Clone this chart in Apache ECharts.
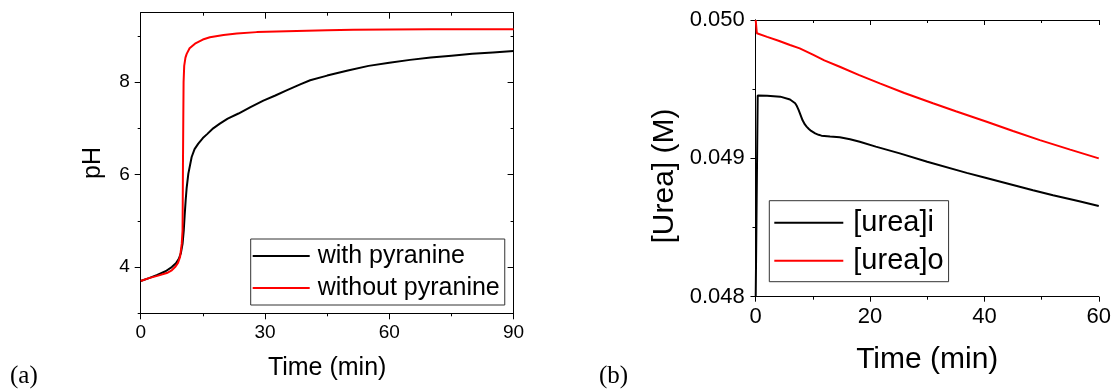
<!DOCTYPE html>
<html>
<head>
<meta charset="utf-8">
<script src="https://cdn.jsdelivr.net/npm/echarts@6/dist/echarts.min.js"></script>
<style>
html, body { margin: 0; padding: 0; background: #fff; }
#chart { width: 1114px; height: 392px; }
</style>
</head>
<body>
<div id="chart"></div>
<script>
// Panel (a): pH against time, with and without pyranine
const timeWithPyranine = [0, 2, 4, 6, 7.5, 8.5, 9.2, 9.7, 10.1, 10.4, 10.6, 10.85, 11.1, 11.5, 12.3, 13, 13.9, 15, 16.1, 17.5, 19.1, 21, 23.6, 26.5, 29.6, 32.5, 35.2, 38.5, 40.9, 45, 50, 55, 60, 65, 70, 75, 80, 85, 90];
const phWithPyranine = [3.70, 3.76, 3.83, 3.91, 4.00, 4.08, 4.18, 4.30, 4.50, 4.80, 5.10, 5.44, 5.72, 6.02, 6.38, 6.55, 6.67, 6.79, 6.88, 7.00, 7.10, 7.21, 7.32, 7.46, 7.60, 7.71, 7.82, 7.95, 8.04, 8.14, 8.25, 8.35, 8.42, 8.48, 8.53, 8.57, 8.61, 8.64, 8.67];
const timeWithoutPyranine = [0, 2, 4, 6.3, 7.5, 8.3, 9, 9.5, 9.9, 10.1, 10.15, 10.2, 10.28, 10.35, 10.5, 10.8, 11.1, 11.8, 13.1, 15, 16.7, 20, 23.2, 28, 35.2, 45, 51.3, 60, 70, 80, 90];
const phWithoutPyranine = [3.70, 3.76, 3.81, 3.87, 3.93, 4.00, 4.09, 4.22, 4.50, 4.79, 5.40, 6.20, 7.20, 8.00, 8.35, 8.53, 8.61, 8.73, 8.83, 8.92, 8.97, 9.02, 9.05, 9.08, 9.10, 9.12, 9.13, 9.135, 9.14, 9.14, 9.14];
const phLabelTicks = [4, 6, 8];
const phMinorTicks = [3, 5, 7, 9];

// Panel (b): inner and outer urea concentration against time
const timeUreaI = [0, 0.35, 2, 4.3, 6, 6.9, 7.2, 7.5, 7.85, 8.2, 8.6, 8.9, 9.3, 9.7, 10.4, 11, 11.5, 13, 14.7, 16.5, 18.2, 21, 25.2, 30, 36.9, 40, 45, 48.5, 52, 56.4, 60];
const ureaI = [0.04800, 0.049455, 0.049453, 0.049446, 0.049425, 0.049398, 0.049378, 0.049350, 0.049313, 0.049275, 0.049245, 0.049229, 0.049212, 0.049198, 0.049180, 0.049170, 0.049164, 0.049158, 0.049152, 0.049138, 0.049120, 0.049085, 0.049036, 0.048975, 0.048895, 0.048862, 0.048808, 0.048770, 0.048733, 0.048692, 0.048655];
const timeUreaO = [0, 0.2, 2, 4, 6, 7.7, 10, 12, 14.7, 18, 21.7, 26, 31, 35, 40.4, 45, 49.7, 55, 60];
const ureaO = [0.05000, 0.049904, 0.049878, 0.049850, 0.049819, 0.049795, 0.049750, 0.049708, 0.049662, 0.049603, 0.049542, 0.049472, 0.049398, 0.049340, 0.049265, 0.049198, 0.049132, 0.049063, 0.049000];

const legendA = ['with pyranine', 'without pyranine'];
const legendB = ['[urea]i', '[urea]o'];

const SANS = "'Liberation Sans', Arial, Helvetica, sans-serif";
const SERIF = "'Liberation Serif', 'Times New Roman', serif";
const BLACK = '#000000';
const RED = '#ff0000';

const pairs = (xs, ys) => xs.map((x, i) => [x, ys[i]]);

const line = { show: true, lineStyle: { color: BLACK, width: 1 } };
const tickStyle = { color: BLACK, width: 1 };
const off = { show: false };

// Box frame on top: same scale, ticks pointing into the plot
function mirrorX(gridIndex, min, max, interval, major, minor) {
  return {
    gridIndex, type: 'value', position: 'top', min, max, interval,
    axisLine: line, axisLabel: off, splitLine: off,
    axisTick: { inside: true, length: major, lineStyle: tickStyle },
    minorTick: { show: true, splitNumber: 2, length: minor, lineStyle: tickStyle }
  };
}

const option = {
  animation: false,
  backgroundColor: '#ffffff',
  grid: [
    { left: 140.7, top: 12.7, width: 372.9, height: 300.6 },
    { left: 755.7, top: 20, width: 343.3, height: 276.7 }
  ],
  xAxis: [
    {
      gridIndex: 0, type: 'value', position: 'bottom', min: 0, max: 90, interval: 30,
      axisLine: line, splitLine: off,
      axisTick: { length: 6, lineStyle: tickStyle },
      minorTick: { show: true, splitNumber: 2, length: 3, lineStyle: tickStyle },
      axisLabel: { fontSize: 19, color: BLACK, fontFamily: SANS, margin: 10 },
      name: 'Time (min)', nameLocation: 'middle', nameGap: 42,
      nameTextStyle: { fontSize: 25, color: BLACK, fontFamily: SANS }
    },
    mirrorX(0, 0, 90, 30, 6, 3),
    {
      gridIndex: 1, type: 'value', position: 'bottom', min: 0, max: 60, interval: 20,
      axisLine: line, splitLine: off,
      axisTick: { length: 5, lineStyle: tickStyle },
      minorTick: { show: true, splitNumber: 2, length: 3, lineStyle: tickStyle },
      axisLabel: { fontSize: 22, color: BLACK, fontFamily: SANS, margin: 9 },
      name: 'Time (min)', nameLocation: 'middle', nameGap: 48,
      nameTextStyle: { fontSize: 30, color: BLACK, fontFamily: SANS }
    },
    mirrorX(1, 0, 60, 20, 5, 3)
  ],
  yAxis: [
    {
      gridIndex: 0, type: 'value', position: 'left', min: 3, max: 9.5, interval: 1,
      axisLine: line, splitLine: off,
      axisTick: { length: 6, lineStyle: tickStyle, customValues: phLabelTicks },
      axisLabel: { customValues: phLabelTicks, fontSize: 19, color: BLACK, fontFamily: SANS, margin: 11 },
      name: 'pH', nameLocation: 'middle', nameGap: 35,
      nameTextStyle: { fontSize: 25, color: BLACK, fontFamily: SANS }
    },
    {
      gridIndex: 0, type: 'value', position: 'left', min: 3, max: 9.5, interval: 1,
      axisLine: off, axisLabel: off, splitLine: off,
      axisTick: { length: 3, lineStyle: tickStyle, customValues: phMinorTicks }
    },
    {
      gridIndex: 0, type: 'value', position: 'right', min: 3, max: 9.5, interval: 1,
      axisLine: line, axisLabel: off, splitLine: off,
      axisTick: { inside: true, length: 6, lineStyle: tickStyle, customValues: phLabelTicks }
    },
    {
      gridIndex: 0, type: 'value', position: 'right', min: 3, max: 9.5, interval: 1,
      axisLine: off, axisLabel: off, splitLine: off,
      axisTick: { inside: true, length: 3, lineStyle: tickStyle, customValues: phMinorTicks }
    },
    {
      gridIndex: 1, type: 'value', position: 'left', min: 0.048, max: 0.050, interval: 0.001,
      axisLine: line, splitLine: off,
      axisTick: { length: 5, lineStyle: tickStyle },
      minorTick: { show: true, splitNumber: 2, length: 3, lineStyle: tickStyle },
      axisLabel: { fontSize: 22, color: BLACK, fontFamily: SANS, margin: 11, formatter: v => v.toFixed(3) }
    },
    {
      gridIndex: 1, type: 'value', position: 'right', min: 0.048, max: 0.050, interval: 0.001,
      axisLine: line, axisLabel: off, splitLine: off,
      axisTick: { inside: true, length: 5, lineStyle: tickStyle },
      minorTick: { show: true, splitNumber: 2, length: 3, lineStyle: tickStyle }
    }
  ],
  legend: [
    {
      data: legendA, orient: 'vertical', left: 250.7, top: 239,
      padding: [1, 5, 1, 2], itemWidth: 57, itemHeight: 2, itemGap: 0, icon: 'rect',
      textStyle: { fontSize: 25, lineHeight: 32, color: BLACK, fontFamily: SANS, padding: [0, 0, 0, 3] },
      borderColor: '#333333', borderWidth: 1, backgroundColor: '#ffffff'
    },
    {
      data: legendB, orient: 'vertical', left: 769.3, top: 200.7,
      padding: [3, 5, 2, 5], itemWidth: 69, itemHeight: 2, itemGap: 0, icon: 'rect',
      textStyle: { fontSize: 29, lineHeight: 38, color: BLACK, fontFamily: SANS, padding: [0, 0, 0, 5] },
      borderColor: '#333333', borderWidth: 1, backgroundColor: '#ffffff'
    }
  ],
  graphic: [
    { type: 'text', left: 10, top: 364, style: { text: '(a)', font: '25px ' + SERIF, fill: BLACK } },
    { type: 'text', left: 599, top: 364, style: { text: '(b)', font: '25px ' + SERIF, fill: BLACK } },
    // y-axis title of panel (b), set a little below the axis middle
    {
      type: 'text', x: 665, y: 176, rotation: Math.PI / 2,
      style: { text: '[Urea] (M)', font: '30px ' + SANS, fill: BLACK, align: 'center', verticalAlign: 'middle' }
    }
  ],
  series: [
    {
      name: legendA[0], type: 'line', xAxisIndex: 0, yAxisIndex: 0, symbol: 'none',
      data: pairs(timeWithPyranine, phWithPyranine),
      color: BLACK, lineStyle: { color: BLACK, width: 2 }
    },
    {
      name: legendA[1], type: 'line', xAxisIndex: 0, yAxisIndex: 0, symbol: 'none',
      data: pairs(timeWithoutPyranine, phWithoutPyranine),
      color: RED, lineStyle: { color: RED, width: 2 }
    },
    {
      name: legendB[0], type: 'line', xAxisIndex: 2, yAxisIndex: 4, symbol: 'none',
      data: pairs(timeUreaI, ureaI),
      color: BLACK, lineStyle: { color: BLACK, width: 2 }
    },
    {
      name: legendB[1], type: 'line', xAxisIndex: 2, yAxisIndex: 4, symbol: 'none',
      data: pairs(timeUreaO, ureaO),
      color: RED, lineStyle: { color: RED, width: 2 }
    }
  ]
};

const chart = echarts.init(document.getElementById('chart'), null, { renderer: 'canvas' });
chart.setOption(option);
</script>
</body>
</html>
